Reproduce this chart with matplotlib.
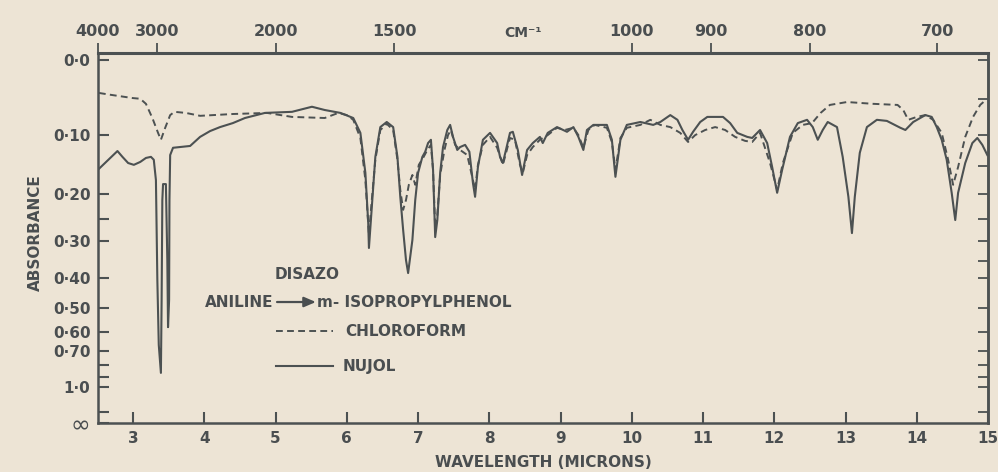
import matplotlib
matplotlib.use("Agg")
import matplotlib.pyplot as plt
import numpy as np

# Infrared spectrum of disazo (aniline -> m-isopropylphenol), percent transmittance
wavelength_nujol = [2.52, 2.68, 2.78, 2.85, 2.93, 3.01, 3.10, 3.18, 3.25, 3.29,
                    3.32, 3.34, 3.36, 3.39, 3.40, 3.41, 3.42, 3.46, 3.48, 3.49,
                    3.505, 3.51, 3.52, 3.56, 3.66, 3.80, 3.94, 4.08, 4.22, 4.40,
                    4.57, 4.85, 5.23, 5.51, 5.69, 5.91, 6.09, 6.19, 6.26, 6.30,
                    6.31, 6.35, 6.40, 6.47, 6.56, 6.65, 6.71, 6.75, 6.79, 6.83,
                    6.86, 6.92, 6.96, 7.00, 7.06, 7.10, 7.14, 7.18, 7.21, 7.24,
                    7.27, 7.31, 7.35, 7.41, 7.45, 7.49, 7.55, 7.59, 7.66, 7.72,
                    7.77, 7.80, 7.84, 7.91, 8.01, 8.11, 8.15, 8.19, 8.25, 8.29,
                    8.33, 8.40, 8.46, 8.53, 8.61, 8.71, 8.75, 8.82, 8.95, 9.09,
                    9.18, 9.25, 9.32, 9.37, 9.46, 9.65, 9.72, 9.77, 9.84, 9.93,
                    10.12, 10.30, 10.40, 10.54, 10.64, 10.71, 10.79, 10.86, 10.96, 11.06,
                    11.28, 11.38, 11.48, 11.62, 11.69, 11.80, 11.90, 11.97, 12.04, 12.11,
                    12.22, 12.33, 12.46, 12.54, 12.61, 12.68, 12.75, 12.88, 12.96, 13.04,
                    13.09, 13.13, 13.20, 13.30, 13.44, 13.58, 13.77, 13.84, 13.95, 14.12,
                    14.21, 14.28, 14.35, 14.42, 14.49, 14.54, 14.58, 14.68, 14.78, 14.85,
                    14.92, 14.99]
transmittance_nujol = [70.0, 73.0, 74.9, 73.3, 71.6, 71.1, 71.9, 73.0, 73.3, 72.5,
                       66.9, 39.4, 21.5, 13.8, 33.9, 61.4, 65.8, 65.8, 44.9, 26.4,
                       33.9, 61.4, 73.8, 75.8, 76.0, 76.3, 78.8, 80.4, 81.5, 82.6,
                       84.0, 85.4, 85.7, 87.1, 86.2, 85.4, 84.0, 79.9, 68.9, 55.1,
                       48.2, 59.5, 73.3, 81.5, 82.9, 81.5, 73.3, 62.3, 53.2, 44.9,
                       41.3, 50.4, 61.4, 68.9, 73.3, 74.7, 77.1, 78.0, 69.7, 51.2,
                       55.9, 68.9, 76.0, 80.7, 82.1, 78.8, 75.2, 76.0, 76.6, 74.7,
                       66.1, 62.3, 70.5, 78.0, 79.9, 77.1, 73.3, 71.6, 76.6, 79.9,
                       80.2, 75.2, 68.3, 75.2, 77.1, 78.8, 77.1, 79.9, 81.5, 80.2,
                       81.5, 78.8, 75.2, 80.7, 82.1, 82.1, 78.0, 67.8, 78.0, 82.1,
                       82.9, 82.1, 82.9, 84.8, 83.5, 80.7, 78.0, 80.2, 82.9, 84.3,
                       84.3, 82.6, 79.9, 78.8, 78.5, 80.7, 77.1, 70.5, 63.4, 69.7,
                       78.8, 82.6, 83.5, 81.5, 78.0, 80.7, 82.9, 81.5, 73.3, 62.3,
                       52.3, 62.3, 74.4, 81.5, 83.5, 83.2, 81.3, 80.7, 82.9, 84.8,
                       84.3, 81.5, 78.0, 72.5, 63.4, 55.9, 63.4, 71.6, 77.1, 78.5,
                       76.6, 73.8]

wavelength_chloroform = [2.52, 2.68, 2.99, 3.10, 3.18, 3.27, 3.35, 3.39, 3.45, 3.52,
                         3.58, 3.74, 3.94, 4.40, 4.88, 5.23, 5.69, 5.88, 6.00, 6.09,
                         6.19, 6.26, 6.31, 6.35, 6.40, 6.47, 6.56, 6.65, 6.71, 6.75,
                         6.79, 6.83, 6.87, 6.92, 6.96, 7.01, 7.07, 7.13, 7.18, 7.21,
                         7.24, 7.27, 7.31, 7.37, 7.42, 7.46, 7.52, 7.59, 7.69, 7.77,
                         7.80, 7.84, 7.91, 8.01, 8.11, 8.19, 8.29, 8.36, 8.43, 8.47,
                         8.53, 8.61, 8.71, 8.82, 8.95, 9.06, 9.18, 9.25, 9.32, 9.39,
                         9.48, 9.65, 9.72, 9.77, 9.84, 9.93, 10.12, 10.26, 10.40, 10.54,
                         10.68, 10.79, 10.89, 11.03, 11.17, 11.31, 11.45, 11.59, 11.69, 11.80,
                         11.94, 12.04, 12.12, 12.26, 12.40, 12.53, 12.65, 12.78, 13.02, 13.39,
                         13.73, 13.81, 13.88, 14.00, 14.12, 14.23, 14.35, 14.44, 14.51, 14.58,
                         14.68, 14.79, 14.89, 14.97]
transmittance_chloroform = [90.9, 90.4, 89.5, 89.3, 87.9, 84.0, 79.9, 78.0, 81.3, 84.8,
                            85.7, 85.4, 84.6, 85.1, 85.4, 84.3, 84.0, 85.4, 84.8, 83.5,
                            78.5, 66.9, 51.8, 61.4, 72.5, 80.7, 82.4, 80.7, 72.5, 64.2,
                            58.7, 61.4, 65.6, 68.3, 65.6, 71.1, 73.0, 75.2, 76.6, 69.7,
                            53.7, 57.3, 68.3, 75.2, 79.3, 80.7, 76.6, 75.2, 73.8, 66.9,
                            64.2, 71.1, 76.6, 78.8, 75.8, 71.1, 78.5, 78.0, 71.1, 68.9,
                            73.8, 76.0, 78.0, 79.3, 81.3, 80.7, 81.3, 79.3, 75.8, 80.7,
                            82.1, 81.3, 77.4, 69.7, 78.5, 81.3, 82.1, 83.5, 82.1, 81.5,
                            79.9, 77.4, 79.3, 80.7, 81.5, 80.7, 78.8, 77.7, 77.4, 79.9,
                            71.6, 64.2, 71.6, 79.9, 82.1, 82.6, 85.4, 87.6, 88.4, 87.9,
                            87.6, 86.2, 83.5, 84.3, 84.8, 83.5, 79.9, 72.5, 65.6, 70.5,
                            78.8, 84.3, 87.6, 89.0]

# Axis scales
micron_ticks = [3, 4, 5, 6, 7, 8, 9, 10, 11, 12, 13, 14, 15]
wavenumber_ticks = [4000, 3000, 2000, 1500, 1000, 900, 800, 700]
absorbance_major = [0.0, 0.10, 0.20, 0.30, 0.40, 0.50, 0.60, 0.70, 1.0]
absorbance_labels = ["0·0", "0·10", "0·20", "0·30", "0·40", "0·50", "0·60", "0·70", "1·0"]
absorbance_minor = [0.25, 0.8, 0.9, 1.5]
absorbance_right = [0.0, 0.05, 0.10, 0.15, 0.20, 0.25, 0.30, 0.35, 0.40,
                    0.50, 0.60, 0.70, 0.80, 0.90, 1.0, 1.5]

paper = "#ede4d5"
ink = "#4c5152"
text_ink = "#4a4e50"

plt.rcParams["font.family"] = ["DejaVu Sans"]
plt.rcParams["font.weight"] = "bold"

fig = plt.figure(figsize=(9.98, 4.72), dpi=100, facecolor=paper)
ax = fig.add_axes([0.0977, 0.1038, 0.8923, 0.7839], facecolor=paper)

ax.plot(wavelength_nujol, transmittance_nujol, color=ink, lw=1.5,
        solid_joinstyle="round")
ax.plot(wavelength_chloroform, transmittance_chloroform, color=ink, lw=1.4,
        dashes=(3.5, 2.2))

ax.set_xlim(2.5, 15.0)
ax.set_ylim(0, 101.9)


def to_percent_t(a):
    return 100.0 * 10.0 ** (-np.asarray(a, dtype=float))


# Left axis: absorbance labels on a linear transmittance scale
ax.set_yticks(list(to_percent_t(absorbance_major)) + [0.0])
ax.set_yticklabels(absorbance_labels + ["∞"])
ax.set_yticks(to_percent_t(absorbance_minor), minor=True)
ax.tick_params(axis="y", which="both", direction="in", length=8, width=1.5,
               colors=ink, labelcolor=text_ink, labelsize=11, pad=5)
inf_label = ax.get_yticklabels()[-1]
inf_label.set_fontsize(17)
inf_label.set_fontweight("normal")

ax.set_xticks(micron_ticks)
ax.set_xticklabels([str(t) for t in micron_ticks])
ax.tick_params(axis="x", which="both", direction="in", length=8, width=1.5,
               colors=ink, labelcolor=text_ink, labelsize=11, pad=6)
ax.tick_params(axis="x", which="minor", length=0)

for side in ["left", "bottom", "right", "top"]:
    ax.spines[side].set_color(ink)
    ax.spines[side].set_linewidth(1.8)

# Right axis: inward ticks only
right = ax.secondary_yaxis("right")
right.set_yticks(to_percent_t(absorbance_right))
right.set_yticklabels([])
right.tick_params(direction="in", length=7, width=1.3, colors=ink)
right.spines["right"].set_linewidth(1.8)
right.spines["right"].set_color(ink)


def micron_to_wavenumber(x):
    x = np.asarray(x, dtype=float)
    return 1.0e4 / np.where(x == 0, 1e-9, x)


top = ax.secondary_xaxis("top", functions=(micron_to_wavenumber, micron_to_wavenumber))
top.set_xticks(wavenumber_ticks)
top.set_xticklabels([str(w) for w in wavenumber_ticks])
top.tick_params(direction="out", length=7, width=1.3, colors=ink,
                labelcolor=text_ink, labelsize=11.5, pad=3)
top.spines["top"].set_linewidth(2.2)
top.spines["top"].set_color(ink)
ax.text(0.478, 1.054, "CM⁻¹", transform=ax.transAxes, ha="center", va="center",
        fontsize=10, color=text_ink, fontweight="bold")

fig.text(0.035, 0.508, "ABSORBANCE", rotation=90, ha="center", va="center",
         fontsize=11, color=text_ink, fontweight="bold")
fig.text(0.544, 0.021, "WAVELENGTH (MICRONS)", ha="center", va="center",
         fontsize=11, color=text_ink, fontweight="bold")

# Sample description and legend
ax.text(0.1993, 0.4027, "DISAZO", transform=ax.transAxes, ha="left", va="center",
        fontsize=11, color=text_ink, fontweight="bold")
ax.text(0.1207, 0.327, "ANILINE", transform=ax.transAxes, ha="left", va="center",
        fontsize=11, color=text_ink, fontweight="bold")
ax.annotate("", xy=(0.2452, 0.327), xytext=(0.2016, 0.327),
            xycoords="axes fraction", textcoords="axes fraction",
            arrowprops=dict(arrowstyle="-|>,head_length=0.7,head_width=0.3",
                            color=text_ink, lw=1.6, shrinkA=0, shrinkB=0))
ax.text(0.2465, 0.327, "m- ISOPROPYLPHENOL", transform=ax.transAxes, ha="left",
        va="center", fontsize=11, color=text_ink, fontweight="bold")

ax.plot([0.2004, 0.2645], [0.2486, 0.2486], transform=ax.transAxes, color=ink,
        lw=1.4, dashes=(3.5, 2.2))
ax.text(0.2779, 0.2486, "CHLOROFORM", transform=ax.transAxes, ha="left", va="center",
        fontsize=11, color=text_ink, fontweight="bold")
ax.plot([0.2004, 0.2645], [0.154, 0.154], transform=ax.transAxes, color=ink, lw=1.5)
ax.text(0.2757, 0.154, "NUJOL", transform=ax.transAxes, ha="left", va="center",
        fontsize=11, color=text_ink, fontweight="bold")

fig.savefig("out.png", dpi=100, facecolor=paper)
